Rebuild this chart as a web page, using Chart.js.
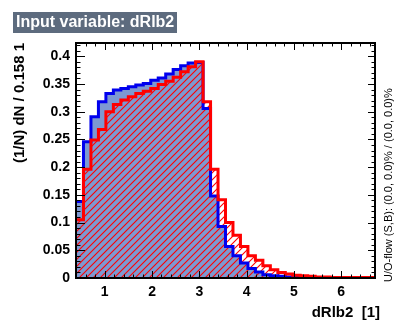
<!DOCTYPE html>
<html>
<head>
<meta charset="utf-8">
<script src="https://cdn.jsdelivr.net/npm/chart.js@4/dist/chart.umd.min.js"></script>
<style>
  html, body { margin: 0; padding: 0; background: #fff; }
  canvas { display: block; }
</style>
</head>
<body>
<canvas id="chart" width="396" height="321"></canvas>
<script>
// histogram binning: 40 bins of 0.158 starting at 0.393
const xMin = 0.393;
const binWidth = 0.158;
const nBins = 40;

const signal = [0.138, 0.246, 0.291, 0.318, 0.333, 0.339, 0.342, 0.345, 0.348, 0.351,
                0.357, 0.361, 0.368, 0.376, 0.383, 0.388, 0.389, 0.306, 0.148, 0.093,
                0.057, 0.040, 0.027, 0.017, 0.011, 0.006, 0.004, 0.003, 0.002, 0.001,
                0.001, 0.0005, 0, 0, 0, 0, 0, 0, 0, 0];
const background = [0.105, 0.196, 0.249, 0.268, 0.300, 0.313, 0.321, 0.327, 0.333, 0.337,
                    0.342, 0.349, 0.355, 0.362, 0.372, 0.381, 0.390, 0.318, 0.196, 0.141,
                    0.100, 0.077, 0.057, 0.040, 0.032, 0.022, 0.015, 0.010, 0.007, 0.005,
                    0.004, 0.003, 0.002, 0.002, 0.001, 0.001, 0.001, 0.001, 0.001, 0.001];

const yTicks = [0, 0.05, 0.1, 0.15, 0.2, 0.25, 0.3, 0.35, 0.4];
const xTicks = [1, 2, 3, 4, 5, 6];

const titleText = 'Input variable: dRlb2';
const yTitle = '(1/N) dN / 0.158 1';
const xTitle = 'dRlb2  [1]';
const flowText = 'U/O-flow (S,B): (0.0, 0.0)% / (0.0, 0.0)%';

const xMax = xMin + binWidth * nBins;

// step points: left edge of every bin, plus closing right edge
const toSteps = (vals) => {
    let pts = vals.map((v, i) => ({ x: xMin + i * binWidth, y: v }));
    pts.push({ x: xMax, y: vals[vals.length - 1] });
    return pts;
}

const hatch = (() => {
    const c = document.createElement('canvas');
    c.width = 7; c.height = 7;
    const g = c.getContext('2d');
    g.strokeStyle = '#ff0000';
    g.lineWidth = 1.1;
    g.beginPath();
    g.moveTo(-1, 8); g.lineTo(8, -1);
    g.moveTo(-4, 4); g.lineTo(4, -4);
    g.moveTo(3, 11); g.lineTo(11, 3);
    g.stroke();
    return g.createPattern(c, 'repeat');
})();

const FONT = '"Liberation Sans", Arial, Helvetica, sans-serif';

const decor = {
    id: 'decor',
    afterDatasetsDraw(chart) {
        const ctx = chart.ctx;
        const a = chart.chartArea;
        const xs = chart.scales.x, ys = chart.scales.y;
        ctx.save();
        ctx.strokeStyle = '#000';
        ctx.lineWidth = 1;
        ctx.beginPath();
        // y ticks (left and right, inward)
        for (let k = 0; k <= 42; k++) {
            const v = k * 0.01;
            if (v > ys.max) break;
            const p = Math.round(ys.getPixelForValue(v)) + 0.5;
            const major = k % 5 === 0;
            const L = major ? 9 : 4.5;
            const R = major ? 7 : 3.5;
            ctx.moveTo(a.left, p); ctx.lineTo(a.left + L, p);
            ctx.moveTo(a.right, p); ctx.lineTo(a.right - R, p);
        }
        // x ticks (bottom and top, inward)
        for (let k = 2; k <= 33; k++) {
            const v = k * 0.2;
            if (v < xs.min || v > xs.max) continue;
            const p = Math.round(xs.getPixelForValue(v)) + 0.5;
            const major = k % 5 === 0;
            const L = major ? 7 : 3.5;
            ctx.moveTo(p, a.bottom); ctx.lineTo(p, a.bottom - L);
            ctx.moveTo(p, a.top); ctx.lineTo(p, a.top + L);
        }
        ctx.stroke();
        ctx.lineWidth = 2;
        ctx.strokeRect(a.left, a.top, a.right - a.left, a.bottom - a.top);

        // title box
        ctx.fillStyle = '#5d6b7e';
        ctx.fillRect(13, 12, 164, 21);
        ctx.fillStyle = '#fff';
        ctx.font = 'bold 16px ' + FONT;
        ctx.textBaseline = 'middle';
        ctx.textAlign = 'left';
        ctx.fillText(titleText, 16, 23);

        // x title
        ctx.fillStyle = '#000';
        ctx.font = 'bold 15px ' + FONT;
        ctx.textAlign = 'right';
        ctx.fillText(xTitle, 380, 313);

        // y title
        ctx.save();
        ctx.translate(20, a.top);
        ctx.rotate(-Math.PI / 2);
        ctx.textAlign = 'right';
        ctx.fillText(yTitle, 0, 0);
        ctx.restore();

        // under/overflow note
        ctx.save();
        ctx.translate(389, 282);
        ctx.rotate(-Math.PI / 2);
        ctx.font = '11px ' + FONT;
        ctx.textAlign = 'left';
        ctx.fillText(flowText, 0, 0);
        ctx.restore();
        ctx.restore();
    }
};

const chart = new Chart(document.getElementById('chart').getContext('2d'), {
    type: 'line',
    data: {
        datasets: [{
            label: 'Background',
            data: toSteps(background),
            stepped: true,
            borderColor: '#ff0000',
            borderWidth: 3,
            backgroundColor: hatch,
            fill: 'origin',
            pointRadius: 0,
        }, {
            label: 'Signal',
            data: toSteps(signal),
            stepped: true,
            borderColor: '#0000ee',
            borderWidth: 3,
            backgroundColor: '#7d99d1',
            fill: 'origin',
            pointRadius: 0,
        }]
    },
    options: {
        responsive: false,
        animation: false,
        layout: { padding: { left: 0, right: 21, top: 43, bottom: 0 } },
        plugins: {
            legend: { display: false },
            tooltip: { enabled: false },
            filler: { drawTime: 'beforeDatasetsDraw' },
        },
        scales: {
            x: {
                type: 'linear',
                min: xMin,
                max: xMax,
                afterFit: (s) => { s.height = 43; },
                afterBuildTicks: (s) => { s.ticks = xTicks.map(v => ({ value: v })); },
                grid: { display: false, drawTicks: false },
                border: { display: false },
                ticks: {
                    padding: 6,
                    color: '#000',
                    font: { family: FONT, size: 14, weight: 'bold' },
                    callback: (v) => String(v),
                },
            },
            y: {
                min: 0,
                max: 0.424,
                afterFit: (s) => { s.width = 76; },
                afterBuildTicks: (s) => { s.ticks = yTicks.map(v => ({ value: v })); },
                grid: { display: false, drawTicks: false },
                border: { display: false },
                ticks: {
                    padding: 6,
                    color: '#000',
                    font: { family: FONT, size: 14, weight: 'bold' },
                    callback: (v) => String(+v.toFixed(2)),
                },
            }
        }
    },
    plugins: [decor]
});
</script>
</body>
</html>
